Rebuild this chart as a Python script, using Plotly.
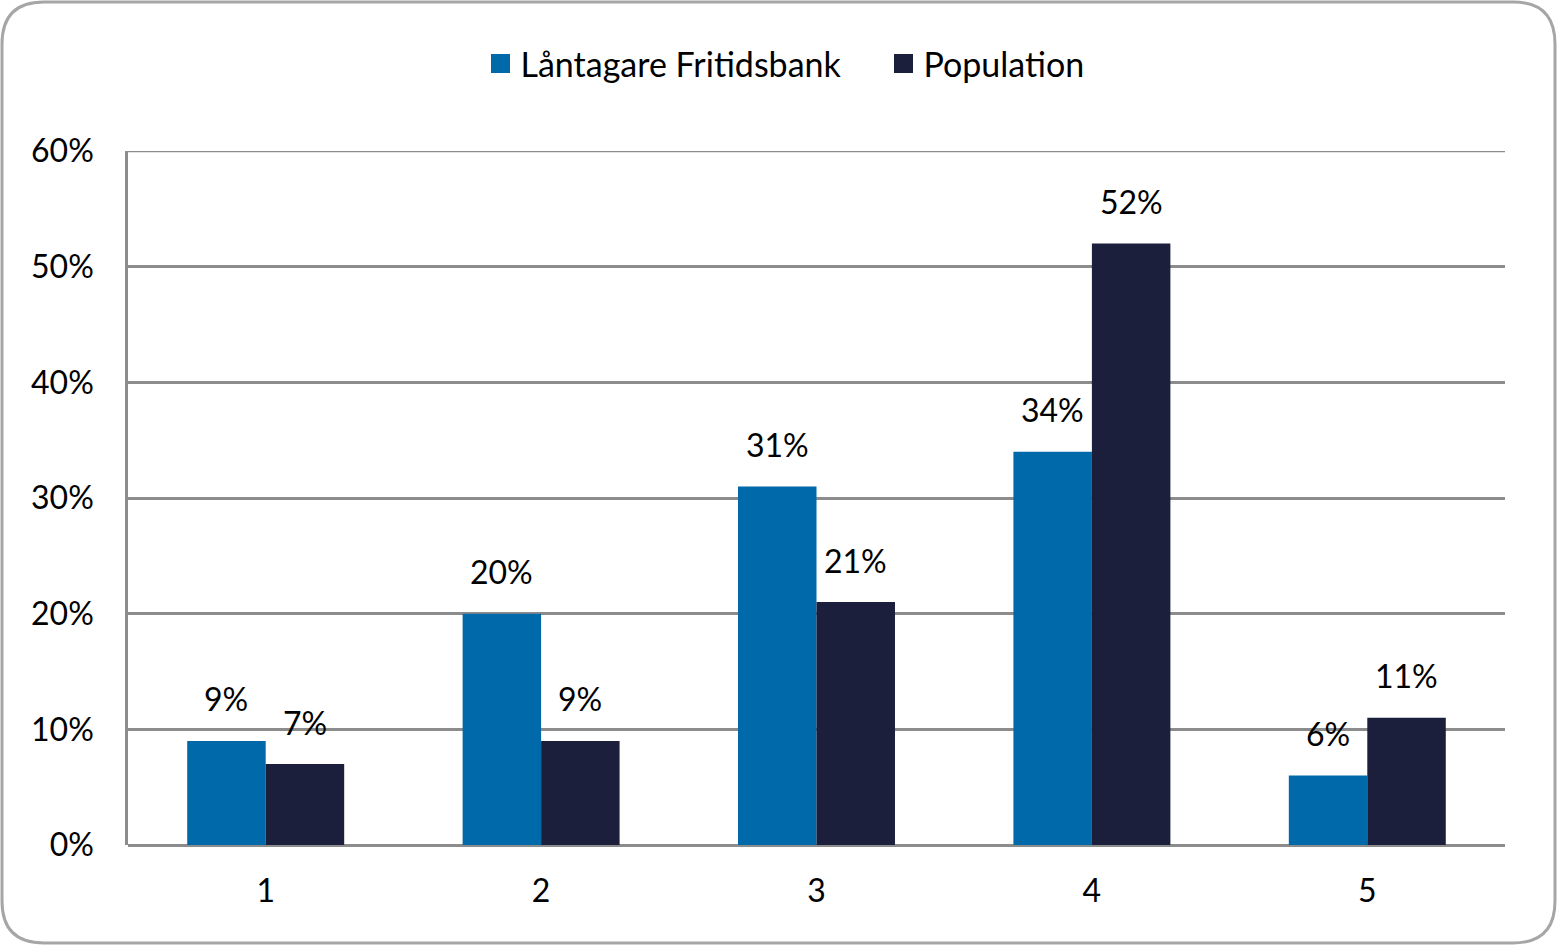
import plotly.graph_objects as go

categories = ["1", "2", "3", "4", "5"]
lantagare = [9, 20, 31, 34, 6]
population = [7, 9, 21, 52, 11]
series_names = ["Låntagare Fritidsbank", "Population"]
series_colors = ["#0069AA", "#1C1F3C"]
y_ticks = [0, 10, 20, 30, 40, 50, 60]
y_tick_labels = [f"{v}%" for v in y_ticks]

W, H = 1557, 945
L, R, T, B = 128, 52, 151, 100
FONT = "Lato"
FS = 32
BARGAP = 0.43

fig = go.Figure()
for name, vals, col in zip(series_names, [lantagare, population], series_colors):
    fig.add_trace(go.Bar(x=categories, y=vals, name=name, showlegend=False,
                         marker=dict(color=col, line=dict(width=0))))
# legend entries with larger square swatches
for name, col in zip(series_names, series_colors):
    fig.add_trace(go.Scatter(x=[categories[0]], y=[None], mode="markers", name=name,
                             marker=dict(symbol="square", size=16, color=col,
                                         line=dict(color=col, width=3))))

pw, ph = W - L - R, H - T - B
cat_px = pw / len(categories)
bar_px = cat_px * (1 - BARGAP) / 2

annotations = []
for i, vals in enumerate([lantagare, population]):
    sign = -1 if i == 0 else 1
    for ci, v in enumerate(vals):
        annotations.append(dict(x=ci, y=v, xref="x", yref="y", text=f"{v}%", showarrow=False,
                                xshift=sign * bar_px / 2, yshift=42, yanchor="middle",
                                font=dict(size=FS, family=FONT, color="#000000")))

def px(x):
    return (x - L) / pw
def py(y):
    return 1 - (y - T) / ph

# rounded border around the whole figure
x0, x1, y0, y1, r = 2, W - 2, 2, H - 2, 42
path = (f"M {px(x0 + r)},{py(y0)} L {px(x1 - r)},{py(y0)} "
        f"Q {px(x1)},{py(y0)} {px(x1)},{py(y0 + r)} "
        f"L {px(x1)},{py(y1 - r)} Q {px(x1)},{py(y1)} {px(x1 - r)},{py(y1)} "
        f"L {px(x0 + r)},{py(y1)} Q {px(x0)},{py(y1)} {px(x0)},{py(y1 - r)} "
        f"L {px(x0)},{py(y0 + r)} Q {px(x0)},{py(y0)} {px(x0 + r)},{py(y0)} Z")

GRID = "#8C8C8C"
fig.update_layout(
    width=W, height=H,
    margin=dict(l=L, r=R, t=T, b=B, autoexpand=False),
    paper_bgcolor="white", plot_bgcolor="white",
    barmode="group", bargap=BARGAP, bargroupgap=0,
    font=dict(family=FONT, size=FS, color="#000000"),
    annotations=annotations,
    legend=dict(orientation="h", x=0.5 + 67 / pw, xanchor="center", y=1.0 + (T - 64) / ph, yanchor="middle",
                font=dict(size=34, family=FONT), itemsizing="trace", traceorder="normal",
                itemwidth=30, entrywidth=358, entrywidthmode="pixels"),
    shapes=[dict(type="path", path=path, xref="paper", yref="paper",
                 line=dict(color="#A6A6A6", width=3), fillcolor="rgba(0,0,0,0)", layer="below"),
            dict(type="line", xref="paper", yref="y", x0=0, x1=1, y0=y_ticks[-1], y1=y_ticks[-1],
                 line=dict(color=GRID, width=2.5), layer="below")],
    xaxis=dict(type="category", categoryorder="array", categoryarray=categories,
               range=[-0.5, len(categories) - 0.5],
               showgrid=False, showline=False, ticks="", tickfont=dict(size=FS, family=FONT),
               ticklabelstandoff=24),
    yaxis=dict(range=[0, 60], tickvals=y_ticks, ticktext=y_tick_labels,
               showgrid=True, gridcolor=GRID, gridwidth=2.5,
               showline=True, linecolor=GRID, linewidth=2.5,
               zeroline=True, zerolinecolor=GRID, zerolinewidth=2.5,
               ticks="", tickfont=dict(size=FS, family=FONT), ticklabelstandoff=25),
)

fig.write_html("out.html", config={"displayModeBar": False},
               post_script="document.body.style.margin='0';document.body.style.overflow='hidden';")
